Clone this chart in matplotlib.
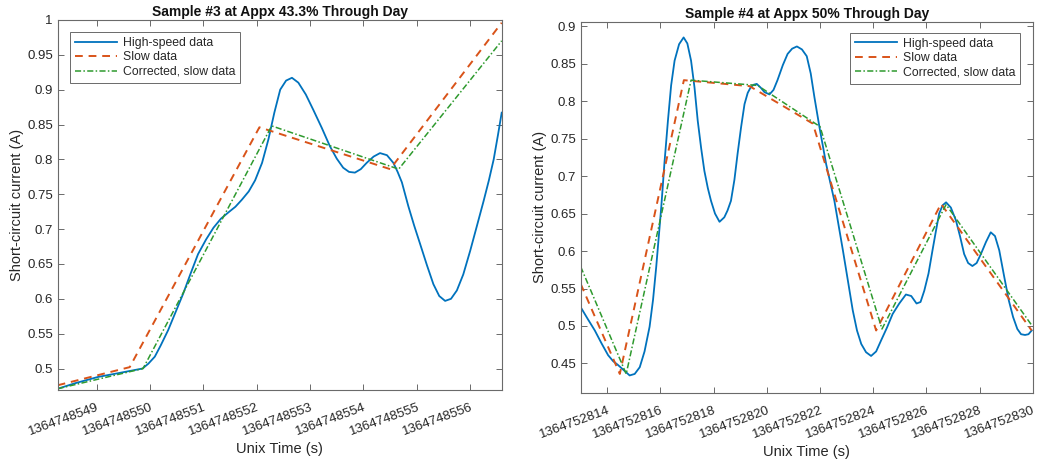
import matplotlib
matplotlib.use("Agg")
import matplotlib.pyplot as plt
import numpy as np

plt.rcParams['font.family'] = ['Liberation Sans', 'DejaVu Sans']

# ---------------- Sample #3 ----------------
base3 = 1364748540
hs3_t = [8.27, 8.60, 9.03, 9.45, 9.86, 9.97, 10.09, 10.20, 10.34, 10.48, 10.62, 10.76,
         10.90, 11.05, 11.19, 11.33, 11.47, 11.60, 11.72, 11.85, 11.97, 12.10,
         12.22, 12.33, 12.44, 12.55, 12.66, 12.78, 12.92, 13.06, 13.22, 13.37,
         13.50, 13.62, 13.73, 13.84, 13.95, 14.06, 14.19, 14.31, 14.44, 14.56,
         14.64, 14.72, 14.84, 14.95, 15.06, 15.19, 15.31, 15.42, 15.53, 15.64,
         15.75, 15.87, 16.00, 16.12, 16.25, 16.35, 16.44, 16.52, 16.59]
hs3_y = [0.471, 0.479, 0.488, 0.494, 0.500, 0.507, 0.517, 0.533, 0.555, 0.581, 0.607,
         0.636, 0.664, 0.685, 0.702, 0.715, 0.724, 0.732, 0.742, 0.754, 0.770,
         0.795, 0.829, 0.867, 0.900, 0.913, 0.917, 0.910, 0.893, 0.871, 0.845,
         0.819, 0.801, 0.788, 0.782, 0.781, 0.786, 0.795, 0.804, 0.809, 0.806,
         0.795, 0.782, 0.767, 0.733, 0.705, 0.679, 0.648, 0.621, 0.604, 0.597,
         0.600, 0.612, 0.635, 0.669, 0.703, 0.740, 0.770, 0.800, 0.835, 0.867]
slow3_t = [8.27, 9.62, 12.05, 14.50, 16.59]
slow3_y = [0.476, 0.502, 0.846, 0.786, 0.996]
corr3_t = [8.27, 9.87, 12.28, 14.66, 16.59]
corr3_y = [0.471, 0.500, 0.848, 0.786, 0.970]
xticks3 = [1364748549, 1364748550, 1364748551, 1364748552,
           1364748553, 1364748554, 1364748555, 1364748556]
yticks3 = [0.5, 0.55, 0.6, 0.65, 0.7, 0.75, 0.8, 0.85, 0.9, 0.95, 1.0]
yticklabels3 = ['0.5', '0.55', '0.6', '0.65', '0.7', '0.75', '0.8', '0.85', '0.9', '0.95', '1']

# ---------------- Sample #4 ----------------
base4 = 1364752800
hs4_t = [13.00, 13.27, 13.53, 13.78, 14.03, 14.22, 14.40, 14.62, 14.84, 15.03, 15.22,
         15.40, 15.59, 15.72, 15.84, 16.03, 16.15, 16.28, 16.40, 16.53, 16.70,
         16.87, 17.01, 17.15, 17.28, 17.40, 17.53, 17.65, 17.78, 17.90, 18.05, 18.22,
         18.40, 18.52, 18.65, 18.78, 18.90, 19.03, 19.16, 19.28, 19.40, 19.51, 19.62,
         19.77, 19.91, 20.10, 20.25, 20.40, 20.60, 20.78, 20.95, 21.13, 21.32, 21.50,
         21.65, 21.79, 21.98, 22.23, 22.54, 22.86, 23.05, 23.23, 23.39, 23.55, 23.73,
         23.92, 24.11, 24.30, 24.52, 24.73, 24.98, 25.23, 25.43, 25.63, 25.78, 25.92,
         26.08, 26.23, 26.36, 26.48, 26.61, 26.74, 26.92, 27.11, 27.27, 27.42, 27.57,
         27.73, 27.89, 28.05, 28.24, 28.42, 28.58, 28.74, 28.92, 29.10, 29.26, 29.42,
         29.56, 29.71, 29.84, 29.96]
hs4_y = [0.525, 0.509, 0.494, 0.477, 0.461, 0.453, 0.448, 0.441, 0.434, 0.436, 0.445,
         0.466, 0.499, 0.535, 0.579, 0.659, 0.718, 0.774, 0.821, 0.854, 0.876,
         0.885, 0.877, 0.854, 0.818, 0.774, 0.737, 0.707, 0.684, 0.667, 0.650, 0.639,
         0.645, 0.654, 0.667, 0.695, 0.730, 0.765, 0.796, 0.811, 0.819, 0.822, 0.823,
         0.818, 0.812, 0.809, 0.815, 0.828, 0.848, 0.863, 0.870, 0.873, 0.869, 0.860,
         0.837, 0.805, 0.765, 0.716, 0.667, 0.601, 0.560, 0.521, 0.494, 0.476, 0.465,
         0.460, 0.466, 0.481, 0.498, 0.516, 0.530, 0.542, 0.540, 0.530, 0.532, 0.547,
         0.570, 0.601, 0.627, 0.650, 0.661, 0.665, 0.658, 0.641, 0.619, 0.596, 0.584,
         0.580, 0.584, 0.596, 0.612, 0.625, 0.620, 0.601, 0.567, 0.534, 0.512, 0.496,
         0.489, 0.488, 0.489, 0.494]
slow4_t = [13.00, 14.47, 16.88, 19.35, 21.73, 24.11, 26.55, 29.96]
slow4_y = [0.556, 0.436, 0.828, 0.820, 0.770, 0.494, 0.663, 0.494]
corr4_t = [13.00, 14.71, 17.15, 19.65, 22.00, 24.33, 26.74, 29.96]
corr4_y = [0.579, 0.436, 0.828, 0.821, 0.766, 0.496, 0.662, 0.501]
xticks4 = [1364752814, 1364752816, 1364752818, 1364752820, 1364752822,
           1364752824, 1364752826, 1364752828, 1364752830]
yticks4 = [0.45, 0.5, 0.55, 0.6, 0.65, 0.7, 0.75, 0.8, 0.85, 0.9]
yticklabels4 = ['0.45', '0.5', '0.55', '0.6', '0.65', '0.7', '0.75', '0.8', '0.85', '0.9']

labels = ['High-speed data', 'Slow data', 'Corrected, slow data']
titles = ['Sample #3 at Appx 43.3% Through Day', 'Sample #4 at Appx 50% Through Day']

BLUE = '#0072BD'
ORANGE = '#D95319'
GREEN = '#2E9A2E'
EDGE = '#6a6a6a'
TXT = '#262626'

fig = plt.figure(figsize=(10.37, 4.59), dpi=100)
ax1 = fig.add_axes([0.0556, 0.150, 0.4282, 0.8066])
ax2 = fig.add_axes([0.5600, 0.1445, 0.4359, 0.8082])


def draw(ax, base, hs_t, hs_y, s_t, s_y, c_t, c_y, xticks, yticks, ylabels,
         xlim, ylim, title, legloc, bbox):
    hs_x = [base + v for v in hs_t]
    s_x = [base + v for v in s_t]
    c_x = [base + v for v in c_t]
    ax.plot(hs_x, hs_y, color=BLUE, lw=1.3, label=labels[0])
    ax.plot(s_x, s_y, color=ORANGE, lw=1.4, ls=(0, (4, 3)), label=labels[1])
    ax.plot(c_x, c_y, color=GREEN, lw=1.1, ls=(0, (4, 1.5, 1, 1.5)), label=labels[2])
    ax.set_xlim(base + xlim[0], base + xlim[1])
    ax.set_ylim(*ylim)
    ax.set_xticks(xticks, labels=[str(t) for t in xticks], rotation=20,
                  ha='right', rotation_mode='anchor')
    ax.set_yticks(yticks, labels=ylabels)
    ax.tick_params(direction='in', length=4, width=0.7, colors=EDGE,
                   labelcolor=TXT, labelsize=9.5, top=True, right=True)
    ax.tick_params(axis='x', pad=8)
    for sp in ax.spines.values():
        sp.set_color(EDGE)
        sp.set_linewidth(0.8)
    ax.set_title(title, fontsize=10, fontweight='bold', color='#111111', pad=3)
    ax.set_xlabel('Unix Time (s)', fontsize=10.5, color=TXT, labelpad=3)
    ax.set_ylabel('Short-circuit current (A)', fontsize=10.5, color=TXT, labelpad=2)
    leg = ax.legend(loc=legloc, bbox_to_anchor=bbox, fontsize=8.8, frameon=True,
                    fancybox=False, edgecolor=EDGE, framealpha=1,
                    handlelength=3.4, handletextpad=0.5, borderpad=0.4,
                    labelspacing=0.2, borderaxespad=0)
    leg.get_frame().set_linewidth(0.7)
    for t in leg.get_texts():
        t.set_color(TXT)


draw(ax1, base3, hs3_t, hs3_y, slow3_t, slow3_y, corr3_t, corr3_y,
     xticks3, yticks3, yticklabels3, (8.27, 16.59), (0.469, 1.0), titles[0],
     'upper left', (0.028, 0.967))
draw(ax2, base4, hs4_t, hs4_y, slow4_t, slow4_y, corr4_t, corr4_y,
     xticks4, yticks4, yticklabels4, (13.0, 29.96), (0.411, 0.906), titles[1],
     'upper right', (0.972, 0.97))

fig.savefig('out.png', dpi=100)
